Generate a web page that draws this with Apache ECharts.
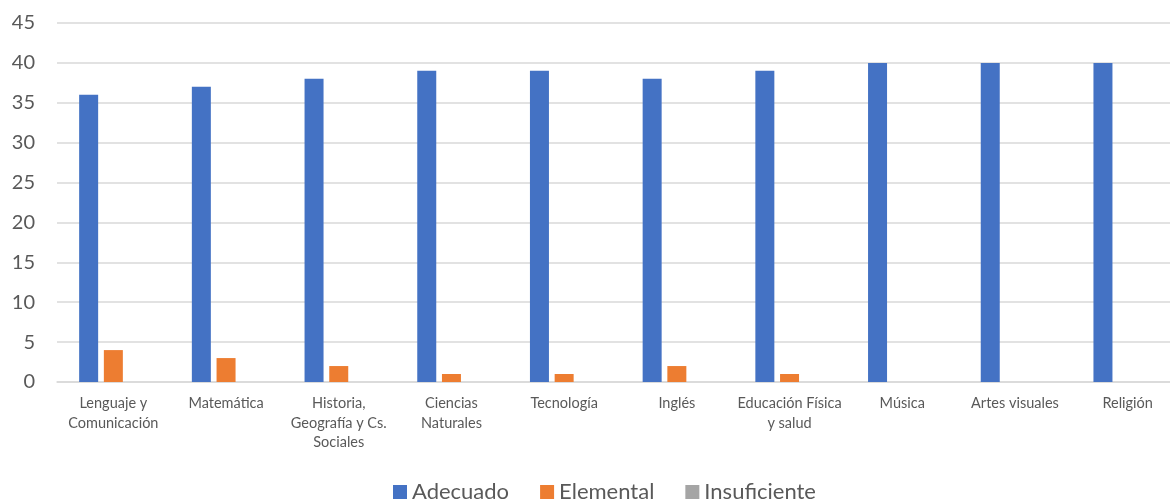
<!DOCTYPE html>
<html>
<head>
<meta charset="utf-8">
<script src="https://cdn.jsdelivr.net/npm/echarts@6/dist/echarts.min.js"></script>
<style>html,body{margin:0;padding:0;background:#fff;overflow:hidden}#c{width:1190px;height:500px}</style>
</head>
<body>
<div id="c"></div>
<script>
const categories = ["Lenguaje y\nComunicación","Matemática","Historia,\nGeografía y Cs.\nSociales","Ciencias\nNaturales","Tecnología","Inglés","Educación Física\ny salud","Música","Artes visuales","Religión"];
const adecuado = [36,37,38,39,39,38,39,40,40,40];
const elemental = [4,3,2,1,1,2,1,0,0,0];
const insuficiente = [0,0,0,0,0,0,0,0,0,0];
const yTicks = [0,5,10,15,20,25,30,35,40,45];

const font = 'Lato, "Open Sans", sans-serif';
const chart = echarts.init(document.getElementById('c'));
chart.setOption({
  animation:false,
  textStyle:{fontFamily:font},
  grid:{left:57,width:1127,top:23,height:359,containLabel:false},
  legend:{
    top:476, left:388, itemWidth:14, itemHeight:14, itemGap:31,
    icon:'rect',
    textStyle:{fontSize:22,color:'#595959',fontFamily:font},
    data:['Adecuado','Elemental','Insuficiente']
  },
  xAxis:{
    type:'category', data:categories,
    axisLine:{lineStyle:{color:'#d9d9d9',width:1.5}},
    axisTick:{show:false},
    axisLabel:{interval:0,color:'#595959',fontSize:14.5,lineHeight:19.5,margin:12,fontFamily:font}
  },
  yAxis:{
    type:'value', min:yTicks[0], max:yTicks[yTicks.length-1], interval:5,
    axisLine:{show:false}, axisTick:{show:false},
    splitLine:{lineStyle:{color:'#d9d9d9',width:1.5}},
    axisLabel:{color:'#595959',fontSize:20,margin:22,fontFamily:font}
  },
  series:[
    {name:'Adecuado',type:'bar',data:adecuado,barWidth:19,barGap:'30%',itemStyle:{color:'#4472C4'}},
    {name:'Elemental',type:'bar',data:elemental,barWidth:19,barGap:'30%',itemStyle:{color:'#ED7D31'}},
    {name:'Insuficiente',type:'bar',data:insuficiente,barWidth:19,barGap:'30%',itemStyle:{color:'#A5A5A5'}}
  ]
});
</script>
</body>
</html>
